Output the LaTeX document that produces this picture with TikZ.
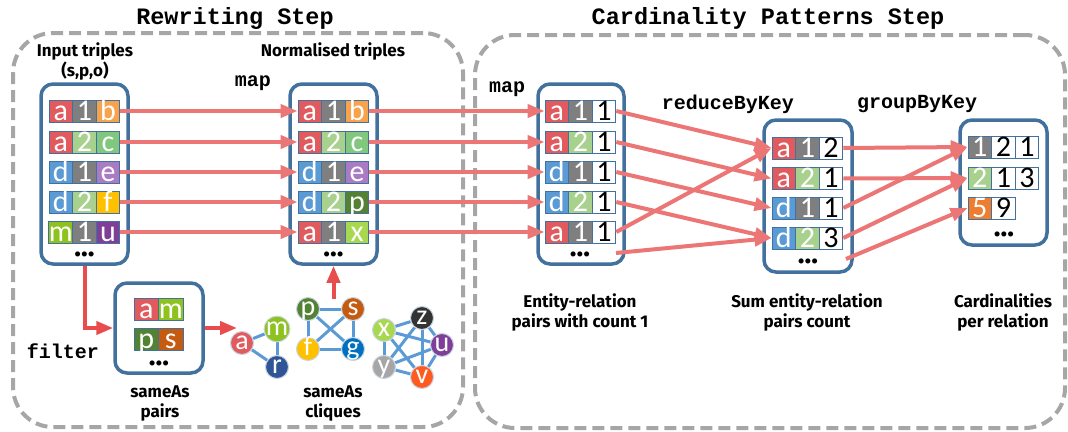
\documentclass[tikz,border=0pt]{standalone}
\usepackage{fontspec}
\setmainfont{Fira Sans}
\newfontfamily\cellfont{Carlito}
\newfontfamily\codefont{Liberation Mono}
\usetikzlibrary{arrows.meta}
\pgfdeclarelayer{background}
\pgfsetlayers{background,main}

% palette
\definecolor{cred}{HTML}{E15A5E}
\definecolor{cgray}{HTML}{7F7F7F}
\definecolor{cgreenl}{HTML}{A9D18E}
\definecolor{corange}{HTML}{F7A24C}
\definecolor{cgreen}{HTML}{82C77E}
\definecolor{cblue}{HTML}{5B9BD5}
\definecolor{cpurple}{HTML}{A97BC4}
\definecolor{cgold}{HTML}{FFC000}
\definecolor{clime}{HTML}{8DC21F}
\definecolor{cvio}{HTML}{7F3F98}
\definecolor{cdgreen}{HTML}{548235}
\definecolor{cxlime}{HTML}{A8D84F}
\definecolor{cbrown}{HTML}{C55A11}
\definecolor{cfive}{HTML}{ED7D31}
\definecolor{cnavy}{HTML}{2F5597}
\definecolor{cgblue}{HTML}{0070C0}
\definecolor{cdark}{HTML}{333333}
\definecolor{cgrey}{HTML}{A6A6A6}
\definecolor{cvermil}{HTML}{FF5A1F}
\definecolor{cellline}{HTML}{41719C}
\definecolor{boxline}{HTML}{41719C}
\definecolor{dashgray}{HTML}{A6A6A6}
\definecolor{flowred}{HTML}{EC7676}
\definecolor{flowdark}{HTML}{E84C4C}
\definecolor{linkblue}{HTML}{5B9BD5}
\definecolor{ringline}{HTML}{C8D4E0}

\newcommand\blk[1]{\textcolor{black}{#1}}

% one row of coloured cells: name, left x, centre y, colour/text list
\newcommand\cellrow[5][23.6]{%
  \foreach \c/\t [count=\i] in {#5} {
    \node[cell, minimum width=#1pt, fill=\c] (#2-\i) at ({#3+(\i-0.5)*#1},#4) {\t};
  }}

\tikzset{
  cell/.style={draw=cellline, line width=0.9pt, minimum height=22pt,
    inner sep=0pt, text height=19pt, text depth=1pt, text=white,
    font=\cellfont\fontsize{30}{30}\selectfont},
  tbox/.style={draw=boxline, line width=3.5pt, rounded corners=12pt, fill=white},
  stepbox/.style={draw=dashgray, line width=4pt, dash pattern=on 12pt off 6pt,
    rounded corners=40pt},
  flow/.style={draw=flowred, line width=4pt, -{Triangle[length=17pt,width=13pt]}},
  flowb/.style={flow, draw=flowdark},
  code/.style={font=\codefont\bfseries\fontsize{20}{20}\selectfont},
  steptitle/.style={font=\codefont\bfseries\fontsize{23.5}{24}\selectfont},
  lbl/.style={font=\bfseries\fontsize{17}{20}\selectfont, align=center},
  more/.style={font=\bfseries\fontsize{28}{28}\selectfont, inner sep=0pt},
  ent/.style={circle, draw=ringline, line width=1pt, minimum size=23pt,
    inner sep=0pt, text=white, text height=13pt, text depth=0pt,
    font=\cellfont\fontsize{28}{28}\selectfont},
  link/.style={draw=linkblue, line width=3pt},
}

\begin{document}
\begin{tikzpicture}[x=1pt,y=-1pt]
\useasboundingbox (0,0) rectangle (1068,431);

% the two stages
\node[stepbox, minimum width=450pt, minimum height=394pt] (rwstep) at (238,230) {};
\node[stepbox, minimum width=590pt, minimum height=393pt] (cpstep) at (770,231.5) {};
\node[steptitle] (rwtitle) at (235,18) {Rewriting Step};
\node[steptitle] (cptitle) at (768,18) {Cardinality Patterns Step};

% containers
\node[tbox, minimum width=87pt, minimum height=180pt] (box1) at (84.5,174) {};
\node[tbox, minimum width=87pt, minimum height=180pt] (box2) at (333.5,174) {};
\node[tbox, minimum width=86pt, minimum height=180pt] (box3) at (581,174) {};
\node[tbox, minimum width=88pt, minimum height=152pt] (box4) at (808,196) {};
\node[tbox, minimum width=87pt, minimum height=125pt] (box5) at (1003.5,182.5) {};
\node[tbox, minimum width=88pt, minimum height=90pt] (sa) at (159,328) {};

% input triples
\cellrow{i1}{49}{111}{cred/a, cgray/1, corange/b}
\cellrow{i2}{49}{142}{cred/a, cgreenl/2, cgreen/c}
\cellrow{i3}{49}{172}{cblue/d, cgray/1, cpurple/e}
\cellrow{i4}{49}{202}{cblue/d, cgreenl/2, cgold/f}
\cellrow{i5}{49}{232}{clime/m, cgray/1, cvio/u}
\node[more] (i6) at (84.5,254) {...};

% normalised triples
\cellrow{n1}{298}{111}{cred/a, cgray/1, corange/b}
\cellrow{n2}{298}{142}{cred/a, cgreenl/2, cgreen/c}
\cellrow{n3}{298}{172}{cblue/d, cgray/1, cpurple/e}
\cellrow{n4}{298}{202}{cblue/d, cgreenl/2, cdgreen/p}
\cellrow{n5}{298}{232}{cred/a, cgray/1, cxlime/x}
\node[more] (n6) at (333.5,254) {...};

% entity-relation pairs with count 1
\cellrow{e1}{545}{111}{cred/a, cgray/1, white/\blk1}
\cellrow{e2}{545}{142}{cred/a, cgreenl/2, white/\blk1}
\cellrow{e3}{545}{172}{cblue/d, cgray/1, white/\blk1}
\cellrow{e4}{545}{202}{cblue/d, cgreenl/2, white/\blk1}
\cellrow{e5}{545}{232}{cred/a, cgray/1, white/\blk1}
\node[more] (edots) at (580,254) {...};
\coordinate (e6) at (616,253);

% summed counts
\cellrow{s1}{772}{148}{cred/a, cgray/1, white/\blk2}
\cellrow{s2}{772}{178.5}{cred/a, cgreenl/2, white/\blk1}
\cellrow{s3}{772}{208}{cblue/d, cgray/1, white/\blk1}
\cellrow{s4}{772}{238}{cblue/d, cgreenl/2, white/\blk3}
\node[more] (sdots) at (808,261) {...};
\coordinate (s5) at (846,259);

% cardinalities
\cellrow{c1}{968}{147}{cgray/1, white/\blk2, white/\blk1}
\cellrow{c2}{968}{178}{cgreenl/2, white/\blk1, white/\blk3}
\cellrow{c3}{968}{208}{cfive/5, white/\blk9}
\node[more] (cdots) at (1004,234) {...};

% sameAs pairs
\cellrow[24.5]{p1}{134}{309}{cred/a, clime/m}
\cellrow[24.5]{p2}{134}{339}{cdgreen/p, cbrown/s}
\node[more] (pdots) at (159,363) {...};

% sameAs cliques
\node[ent, fill=cred]    (ka) at (242,343) {a};
\node[ent, fill=clime]   (km) at (277,329) {m};
\node[ent, fill=cnavy]   (kr) at (277,367) {r};
\node[ent, fill=cdgreen] (kp) at (308,309) {p};
\node[ent, fill=cbrown]  (ks) at (353,309) {s};
\node[ent, fill=cgold]   (kf) at (308,349) {f};
\node[ent, fill=cgblue]  (kg) at (353,349) {g};
\node[ent, fill=cxlime]  (kx) at (384,330) {x};
\node[ent, fill=cdark]   (kz) at (422,318) {z};
\node[ent, fill=cvio]    (ku) at (442,345) {u};
\node[ent, fill=cgrey]   (ky) at (384,367) {y};
\node[ent, fill=cvermil] (kv) at (422,377) {v};
\begin{pgfonlayer}{background}
  \foreach \u/\w in {ka/km, km/kr, ka/kr,
                     kp/ks, kp/kf, kp/kg, ks/kf, ks/kg, kf/kg,
                     kx/kz, kx/ku, kx/kv, kx/ky, kz/ku, kz/kv, kz/ky,
                     ku/kv, ku/ky, kv/ky}
    \draw[link] (\u) -- (\w);
\end{pgfonlayer}

% labels
\node[lbl] (linput) at (85,61) {Input triples\\(s,p,o)};
\node[lbl] (lnorm) at (333,51) {Normalised triples};
\node[lbl] (lpairs) at (160,403) {sameAs\\pairs};
\node[lbl] (lcliq) at (333,403) {sameAs\\cliques};
\node[lbl] (lent) at (580,312) {Entity-relation\\pairs with count 1};
\node[lbl] (lsum) at (807,312) {Sum entity-relation\\pairs count};
\node[lbl] (lcard) at (1003,312) {Cardinalities\\per relation};

\node[code] (map1) at (253,83) {map};
\node[code] (map2) at (507,89) {map};
\node[code] (rbk) at (728,104) {reduceByKey};
\node[code] (gbk) at (917,104) {groupByKey};
\node[code] (filt) at (63,351) {filter};

% rewriting flow
\foreach \r in {1,...,5}
  \draw[flow] (i\r-3.east) -- (n\r-1.west);
\foreach \r in {1,...,5}
  \draw[flow] (n\r-3.east) -- (e\r-1.west);

% reduce flow
\draw[flow] (e1-3.east) -- (s1-1.west);
\draw[flow] (e2-3.east) -- (s2-1.west);
\draw[flow] (e3-3.east) -- (s3-1.west);
\draw[flow] (e4-3.east) -- (s4-1.west);
\draw[flow] (e5-3.east) -- (s1-1.west);
\draw[flow] (e6) -- (s4-1.west);

% group flow
\draw[flow] (s1-3.east) -- (c1-1.west);
\draw[flow] (s2-3.east) -- (c2-1.west);
\draw[flow] (s3-3.east) -- (c1-1.west);
\draw[flow] (s4-3.east) -- (c2-1.west);
\draw[flow] (s5) -- (c3-1.west);

% sameAs flow
\coordinate (catip) at (237,328);
\coordinate (upfoot) at (333.5,299);
\draw[flowb] (box1.south) |- (sa.west);
\draw[flowb] (sa.east) -- (catip);
\draw[flowb] (upfoot) -- (box2.south);
\end{tikzpicture}
\end{document}
